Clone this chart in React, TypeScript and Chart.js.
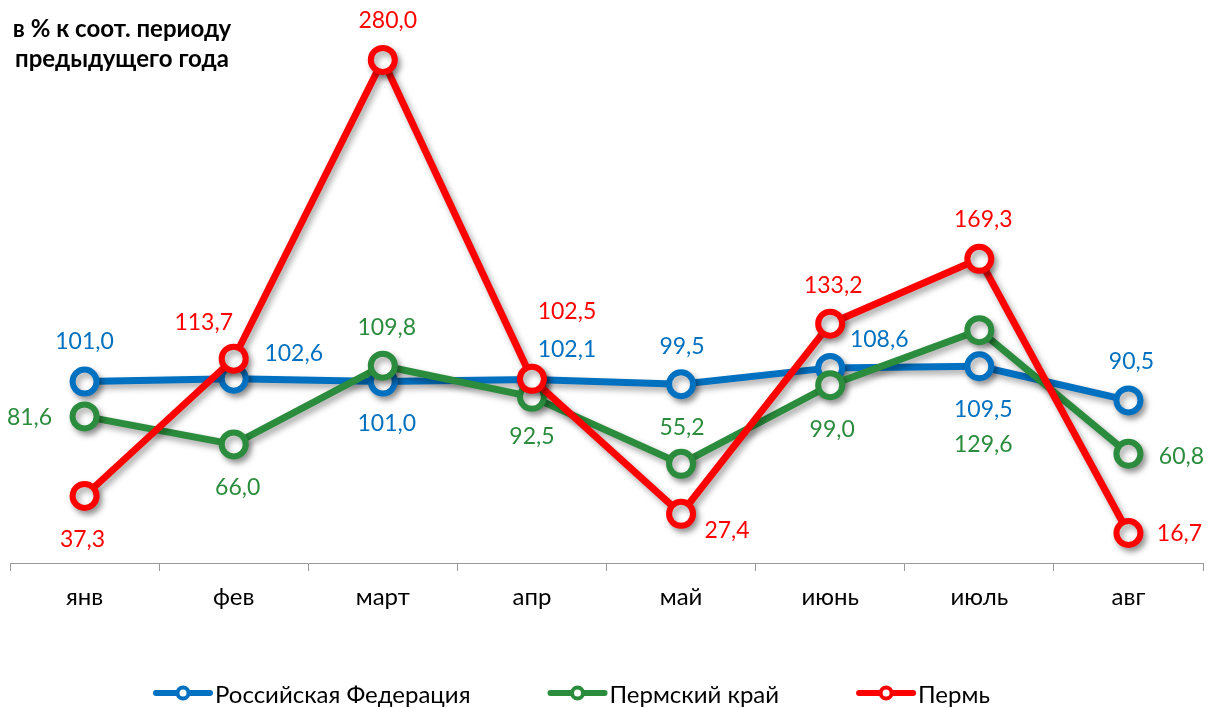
import React, { useEffect, useRef } from "react";
import { Chart, registerables } from "chart.js";

Chart.register(...registerables);

// ---- data ----
const categories = ["янв", "фев", "март", "апр", "май", "июнь", "июль", "авг"];
const seriesNames = ["Российская Федерация", "Пермский край", "Пермь"];
const rfValues = [101.0, 102.6, 101.0, 102.1, 99.5, 108.6, 109.5, 90.5];
const krayValues = [81.6, 66.0, 109.8, 92.5, 55.2, 99.0, 129.6, 60.8];
const permValues = [37.3, 113.7, 280.0, 102.5, 27.4, 133.2, 169.3, 16.7];
const titleLines = ["в % к соот. периоду", "предыдущего года"];

// ---- styles ----
const FONT = "Lato, 'Open Sans', sans-serif";
const COLORS = ["#0070C0", "#2A8C3C", "#FF0000"];
// label offsets (dx, dy) relative to each point, per series
const LABEL_OFFSETS: number[][][] = [
  [[0, -40], [60, -25], [4, 42], [35, -30], [1, -38], [49, -28], [4, 43], [3, -39]],
  [[-55, 1], [4, 43], [4, -38], [0, 40], [1, -36], [2, 44], [4, 114], [53, 3]],
  [[-2, 44], [-30, -36], [5, -39], [35, -67], [46, 17], [3, -38], [4, -39], [51, 1]],
];

const shadowPlugin = {
  id: "lineShadow",
  beforeDatasetDraw(chart: any) {
    const ctx = chart.ctx;
    ctx.save();
    ctx.shadowColor = "rgba(0,0,0,0.35)";
    ctx.shadowBlur = 6;
    ctx.shadowOffsetX = 3;
    ctx.shadowOffsetY = 4;
  },
  afterDatasetDraw(chart: any) {
    chart.ctx.restore();
  },
};

const labelsPlugin = {
  id: "valueLabels",
  afterDatasetsDraw(chart: any) {
    const ctx = chart.ctx;
    ctx.save();
    ctx.font = `23px ${FONT}`;
    ctx.textAlign = "center";
    ctx.textBaseline = "middle";
    chart.data.datasets.forEach((ds: any, i: number) => {
      const meta = chart.getDatasetMeta(i);
      ctx.fillStyle = COLORS[i];
      meta.data.forEach((el: any, j: number) => {
        const v = ds.data[j] as number;
        const [dx, dy] = LABEL_OFFSETS[i][j];
        ctx.fillText(v.toFixed(1).replace(".", ","), el.x + dx, el.y + dy);
      });
    });
    ctx.restore();
  },
};

const decorPlugin = {
  id: "decor",
  afterDraw(chart: any) {
    const ctx = chart.ctx;
    ctx.save();
    // title
    ctx.font = `bold 24px ${FONT}`;
    ctx.fillStyle = "#000";
    ctx.textAlign = "center";
    ctx.textBaseline = "alphabetic";
    ctx.fillText(titleLines[0], 122, 37);
    ctx.fillText(titleLines[1], 122, 67);
    // legend
    ctx.font = `24px ${FONT}`;
    ctx.textAlign = "left";
    ctx.textBaseline = "middle";
    let x = 153;
    const y = 693;
    seriesNames.forEach((name, i) => {
      ctx.strokeStyle = COLORS[i];
      ctx.lineWidth = 6;
      ctx.lineCap = "round";
      ctx.beginPath();
      ctx.moveTo(x + 3, y);
      ctx.lineTo(x + 57, y);
      ctx.stroke();
      ctx.beginPath();
      ctx.arc(x + 30, y, 5.5, 0, Math.PI * 2);
      ctx.fillStyle = "#fff";
      ctx.fill();
      ctx.lineWidth = 4;
      ctx.stroke();
      ctx.fillStyle = "#000";
      ctx.fillText(name, x + 62, y + 2);
      x = x + 62 + ctx.measureText(name).width + 77;
    });
    ctx.restore();
  },
};

export default function App() {
  const ref = useRef<HTMLCanvasElement | null>(null);
  useEffect(() => {
    if (!ref.current) return;
    const valueSets = [rfValues, krayValues, permValues];
    const chart = new Chart(ref.current, {
      type: "line",
      data: {
        labels: categories,
        datasets: valueSets.map((vals, i) => ({
          label: seriesNames[i],
          data: vals,
          borderColor: COLORS[i],
          backgroundColor: COLORS[i],
          borderWidth: 7,
          pointRadius: 12,
          pointHoverRadius: 12,
          pointBorderWidth: 6,
          pointBackgroundColor: "#fff",
          pointBorderColor: COLORS[i],
          tension: 0,
          fill: false,
          clip: false as any,
          order: 2 - i,
        })),
      },
      options: {
        responsive: true,
        maintainAspectRatio: false,
        animation: false,
        layout: { autoPadding: false, padding: { left: 10, right: 15, top: 24, bottom: 0 } },
        plugins: {
          legend: { display: false },
          tooltip: { enabled: false },
        },
        scales: {
          x: {
            offset: true,
            grid: {
              offset: true,
              drawOnChartArea: false,
              tickLength: 8,
              color: "#999",
              lineWidth: 1,
            },
            border: { display: true, color: "#999", width: 1 },
            ticks: {
              color: "#000",
              font: { family: FONT, size: 24 },
              padding: 12,
            },
            afterFit: (s: any) => {
              s.height = 145;
            },
          },
          y: { display: false, min: 0, max: 300 },
        },
      },
      plugins: [shadowPlugin, labelsPlugin, decorPlugin],
    });
    return () => chart.destroy();
  }, []);
  return (
    <div style={{ position: "absolute", left: 0, top: 0, width: 1218, height: 708 }}>
      <canvas ref={ref} />
    </div>
  );
}
